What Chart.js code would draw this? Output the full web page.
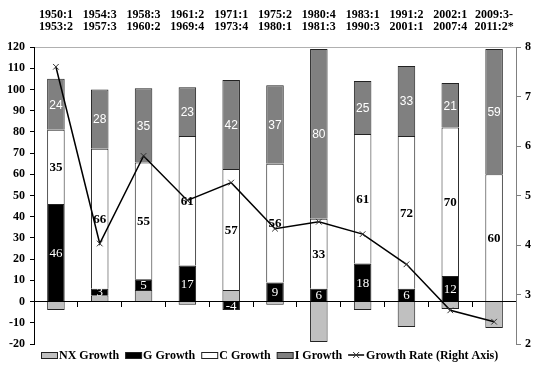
<!DOCTYPE html>
<html>
<head>
<meta charset="utf-8">
<script src="https://cdn.jsdelivr.net/npm/chart.js@4/dist/chart.umd.min.js"></script>
<style>
  body { margin: 0; background: #fff; }
  #wrap { width: 539px; height: 367px; }
</style>
</head>
<body>
<div id="wrap"><canvas id="growthChart"></canvas></div>
<script>
// periods shown along the top
const periods = [
  ["1950:1", "1953:2"], ["1954:3", "1957:3"], ["1958:3", "1960:2"], ["1961:2", "1969:4"],
  ["1971:1", "1973:4"], ["1975:2", "1980:1"], ["1980:4", "1981:3"], ["1983:1", "1990:3"],
  ["1991:2", "2001:1"], ["2002:1", "2007:4"], ["2009:3-", "2011:2*"]
];
// contributions to growth (percent)
const nxGrowth = [-4, 3, 5.5, -1.5, 5.5, -1.5, -19, -4, -12, -3.5, -12.5];
const gGrowth = [46, 3, 5, 17, -4, 9, 6, 18, 6, 12, 0];
const cGrowth = [35, 66, 55, 61, 57, 56, 33, 61, 72, 70, 60];
const iGrowth = [24, 28, 35, 23, 42, 37, 80, 25, 33, 21, 59];
// average growth rate, right axis
const growthRate = [7.6, 4.03, 5.8, 4.9, 5.26, 4.33, 4.47, 4.22, 3.61, 2.68, 2.45];

const leftTicks = { min: -20, max: 120, step: 10 };
const rightTicks = { min: 2, max: 8, step: 1 };

const serif = "'Liberation Serif', 'Times New Roman', serif";

// writes the value in the middle of each bar segment
const segmentLabels = {
  id: "segmentLabels",
  afterDatasetsDraw(chart) {
    const ctx = chart.ctx;
    chart.data.datasets.forEach((ds, di) => {
      if (!ds.valueLabel) return;
      const meta = chart.getDatasetMeta(di);
      meta.data.forEach((bar, i) => {
        const v = ds.data[i];
        if (!v) return;
        ctx.save();
        ctx.font = ds.valueLabel.font;
        ctx.fillStyle = ds.valueLabel.color;
        ctx.textAlign = "center";
        ctx.textBaseline = "middle";
        ctx.fillText(String(v), bar.x, (bar.y + bar.base) / 2 + 1);
        ctx.restore();
      });
    });
  }
};

// excel-like legend row under the plot
const bottomLegend = {
  id: "bottomLegend",
  afterDraw(chart) {
    const ctx = chart.ctx;
    const boxW = 16, boxH = 6, gap = 2, itemGap = 6;
    const y = chart.height - 12;
    ctx.save();
    ctx.font = "bold 12px " + serif;
    ctx.textBaseline = "middle";
    const items = chart.data.datasets.map(ds => ({ ds, w: ctx.measureText(ds.label).width }));
    const total = items.reduce((s, it) => s + boxW + gap + it.w, 0) + itemGap * (items.length - 1);
    let x = Math.round((chart.width - total) / 2);
    items.forEach(({ ds, w }) => {
      if (ds.type === "line") {
        ctx.strokeStyle = ds.borderColor;
        ctx.lineWidth = 1.5;
        ctx.beginPath();
        ctx.moveTo(x, y); ctx.lineTo(x + boxW, y);
        ctx.stroke();
        const cx = x + boxW / 2, r = 3;
        ctx.strokeStyle = "#333";
        ctx.lineWidth = 1;
        ctx.beginPath();
        ctx.moveTo(cx - r, y - r); ctx.lineTo(cx + r, y + r);
        ctx.moveTo(cx - r, y + r); ctx.lineTo(cx + r, y - r);
        ctx.stroke();
      } else {
        ctx.fillStyle = ds.backgroundColor;
        ctx.fillRect(x + 0.5, y - boxH / 2 + 0.5, boxW, boxH);
        ctx.strokeStyle = ds.borderColor;
        ctx.lineWidth = 1;
        ctx.strokeRect(x + 0.5, y - boxH / 2 + 0.5, boxW, boxH);
      }
      ctx.fillStyle = "#000";
      ctx.fillText(ds.label, x + boxW + gap, y + 1);
      x += boxW + gap + w + itemGap;
    });
    ctx.restore();
  }
};

const barBase = { type: "bar", borderColor: "#222", borderWidth: 1, barPercentage: 0.4, categoryPercentage: 1, order: 2, yAxisID: "y", xAxisID: "x" };

new Chart(document.getElementById("growthChart"), {
  type: "bar",
  data: {
    labels: periods,
    datasets: [
      { ...barBase, label: "NX Growth", data: nxGrowth, backgroundColor: "#c0c0c0" },
      { ...barBase, label: "G Growth", data: gGrowth, backgroundColor: "#000000",
        valueLabel: { font: "13px " + serif, color: "#ffffff" } },
      { ...barBase, label: "C Growth", data: cGrowth, backgroundColor: "#ffffff",
        valueLabel: { font: "bold 13px " + serif, color: "#000000" } },
      { ...barBase, label: "I Growth", data: iGrowth, backgroundColor: "#808080",
        valueLabel: { font: "12px 'Liberation Sans', Arial, sans-serif", color: "#ffffff" } },
      {
        type: "line", label: "Growth Rate (Right Axis)", data: growthRate, yAxisID: "y2", xAxisID: "x",
        borderColor: "#000", borderWidth: 1.5, tension: 0, fill: false, order: 1,
        pointStyle: "crossRot", pointRadius: 4, pointBorderColor: "#333", pointBorderWidth: 1,
        pointBackgroundColor: "#333"
      }
    ]
  },
  options: {
    responsive: true,
    maintainAspectRatio: false,
    animation: false,
    layout: { padding: { top: 7, left: 2, right: 4, bottom: 23 } },
    plugins: {
      tooltip: { enabled: false },
      legend: { display: false }
    },
    scales: {
      x: {
        type: "category",
        stacked: true,
        offset: true,
        position: { y: 0 },
        ticks: { display: false },
        grid: { offset: true, drawOnChartArea: false, drawTicks: true, tickLength: 5, color: "#000" },
        border: { color: "#000", width: 1 }
      },
      xTop: {
        type: "category",
        position: "top",
        offset: true,
        ticks: {
          color: "#000",
          padding: 2,
          maxRotation: 0,
          autoSkip: false,
          font: { family: serif, size: 12, weight: "bold", lineHeight: 1.0 }
        },
        // invisible tick marks keep the gap between labels and the plot
        grid: { display: true, drawOnChartArea: false, drawTicks: true, tickLength: 12, tickColor: "rgba(0,0,0,0)" },
        border: { color: "#b0b0b0", width: 1 }
      },
      y: {
        stacked: true,
        min: leftTicks.min,
        max: leftTicks.max,
        ticks: { stepSize: leftTicks.step, color: "#000", padding: 5, font: { family: serif, size: 12, weight: "bold" } },
        grid: { drawOnChartArea: false, drawTicks: true, tickLength: 4, color: "#000" },
        border: { color: "#000", width: 1 }
      },
      y2: {
        position: "right",
        min: rightTicks.min,
        max: rightTicks.max,
        ticks: { stepSize: rightTicks.step, color: "#000", padding: 4, font: { family: serif, size: 12, weight: "bold" } },
        grid: { drawOnChartArea: false, drawTicks: true, tickLength: 5, color: "#808080" },
        border: { color: "#808080", width: 1 }
      }
    }
  },
  plugins: [segmentLabels, bottomLegend]
});
</script>
</body>
</html>
